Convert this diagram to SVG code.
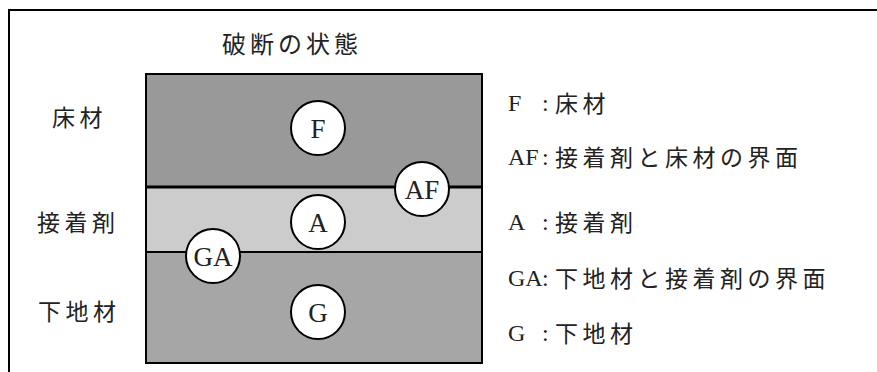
<svg xmlns="http://www.w3.org/2000/svg" width="877" height="372" viewBox="0 0 877 372">
<style>
.jp{font-family:"Noto Sans CJK JP","Liberation Serif",sans-serif;font-size:23px;fill:#222;letter-spacing:4.5px}
.tt{font-family:"Noto Sans CJK JP","Liberation Serif",sans-serif;font-size:24px;fill:#222;letter-spacing:4px}
.lt{font-family:"Liberation Serif",serif;font-size:24px;fill:#222}
.c{fill:#fff;stroke:#000;stroke-width:2}
.cl{font-family:"Liberation Serif",serif;font-size:27px;fill:#222;text-anchor:middle}
</style>
<rect x="0" y="0" width="877" height="372" fill="#fff"/>
<path d="M9,372 V10 H877" fill="none" stroke="#000" stroke-width="2"/>
<text class="tt" x="222" y="53">破断の状態</text>
<g id="layers">
<rect x="146" y="74" width="336" height="113" fill="#999"/>
<rect x="146" y="187" width="336" height="65" fill="#ccc"/>
<rect x="146" y="252" width="336" height="111" fill="#a6a6a6"/>
<line x1="146" y1="187" x2="482" y2="187" stroke="#000" stroke-width="3"/>
<line x1="146" y1="252" x2="482" y2="252" stroke="#000" stroke-width="2"/>
<rect x="146" y="74" width="336" height="289" fill="none" stroke="#000" stroke-width="2"/>
</g>
<g id="left-labels">
<text class="jp" x="52" y="126">床材</text>
<text class="jp" x="37" y="231">接着剤</text>
<text class="jp" x="38" y="320">下地材</text>
</g>
<g id="F"><circle class="c" cx="318" cy="128" r="27"/><text class="cl" x="318" y="138">F</text></g>
<g id="AF"><circle class="c" cx="422" cy="189" r="27"/><text class="cl" x="422" y="199">AF</text></g>
<g id="A"><circle class="c" cx="318" cy="222" r="27"/><text class="cl" x="318" y="232">A</text></g>
<g id="GA"><circle class="c" cx="213" cy="256" r="27"/><text class="cl" x="213" y="266">GA</text></g>
<g id="G"><circle class="c" cx="318" cy="312" r="27"/><text class="cl" x="318" y="322">G</text></g>
<g id="legend">
<text class="lt" x="508" y="111">F</text><text class="lt" x="542" y="111">:</text><text class="jp" x="555" y="112">床材</text>
<text class="lt" x="508" y="165">AF</text><text class="lt" x="542" y="165">:</text><text class="jp" x="555" y="166">接着剤と床材の界面</text>
<text class="lt" x="508" y="230">A</text><text class="lt" x="542" y="230">:</text><text class="jp" x="555" y="231">接着剤</text>
<text class="lt" x="508" y="286">GA</text><text class="lt" x="542" y="286">:</text><text class="jp" x="555" y="287">下地材と接着剤の界面</text>
<text class="lt" x="508" y="341">G</text><text class="lt" x="542" y="341">:</text><text class="jp" x="555" y="342">下地材</text>
</g>
</svg>
